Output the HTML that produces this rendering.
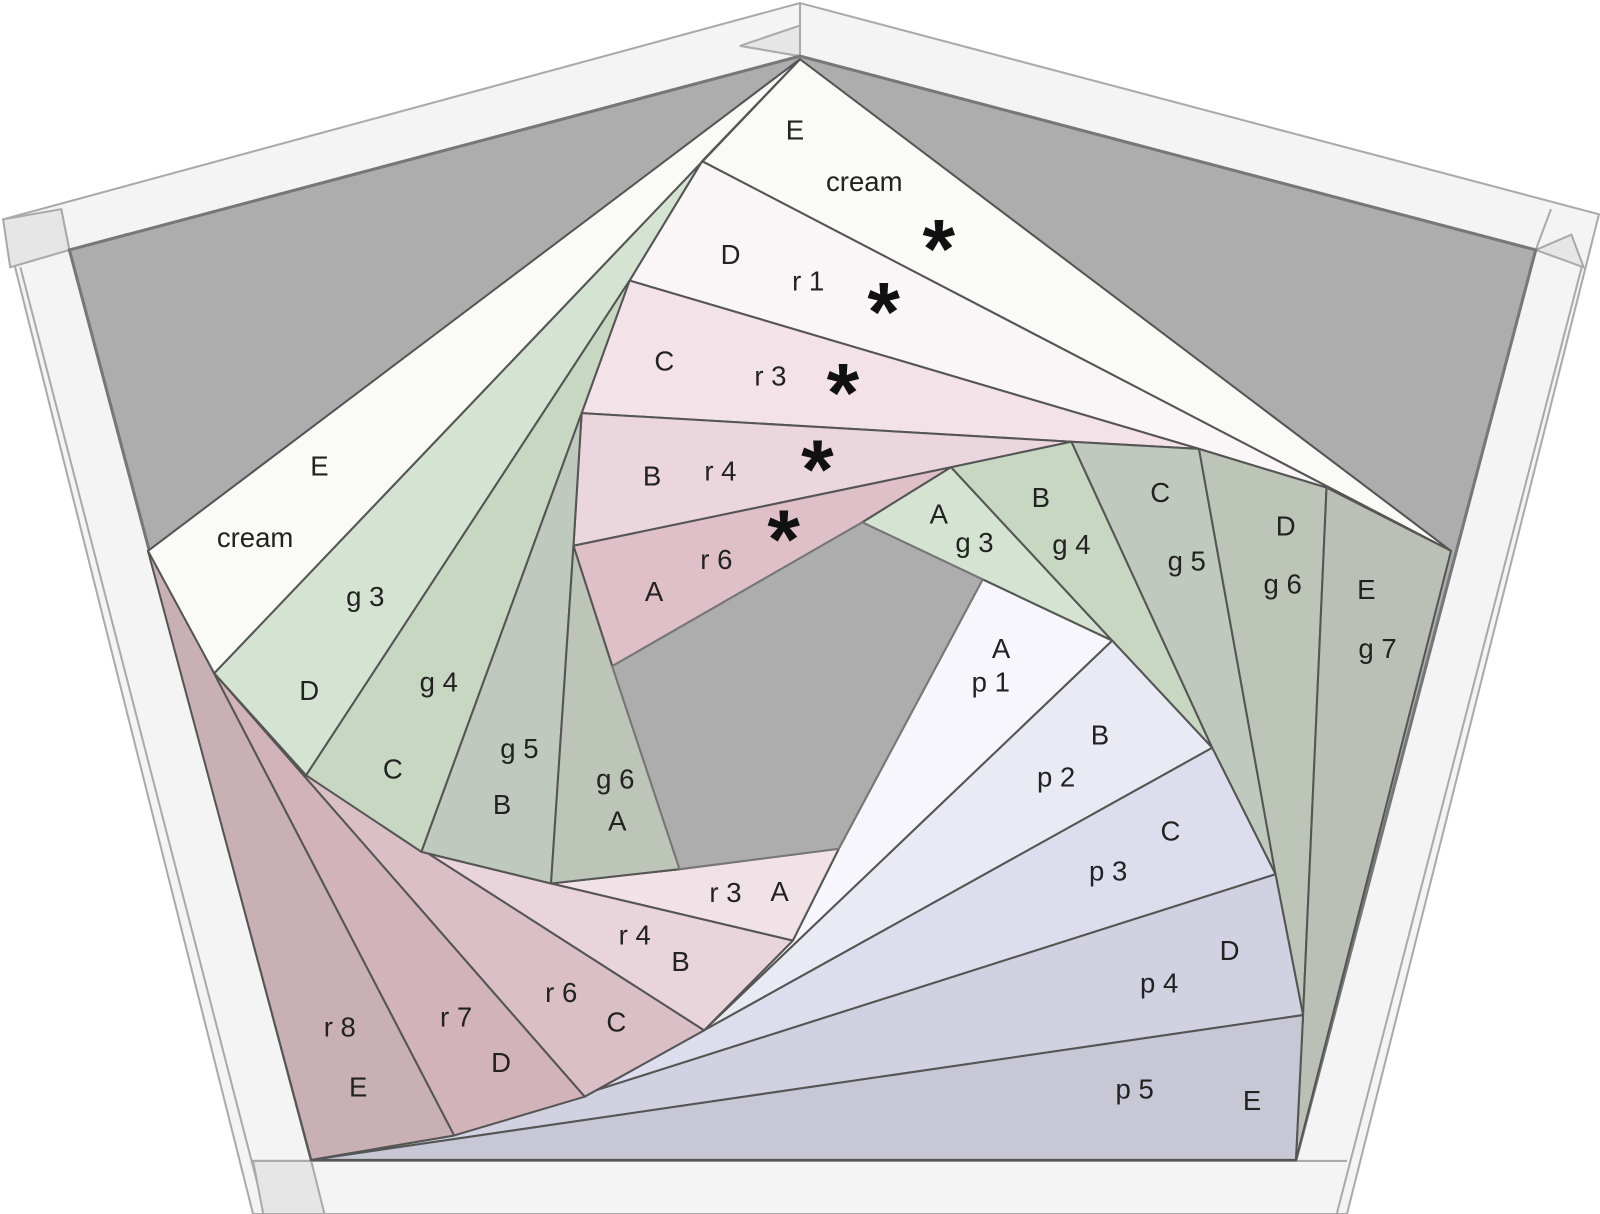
<!DOCTYPE html>
<html><head><style>
html,body{margin:0;padding:0;background:#fff;}
svg{display:block;}
text{font-family:"Liberation Sans",sans-serif;font-size:27px;fill:#222;text-anchor:middle;}
.ast{font-size:82px;font-weight:bold;fill:#111;}
</style></head><body>
<svg width="1600" height="1214" viewBox="0 0 1568 1190" preserveAspectRatio="none" xmlns="http://www.w3.org/2000/svg">
<g stroke="#aaa" stroke-width="2" fill="#f4f4f4">
<polygon points="784,3 1567,210 1320,1190 248,1190 3,215"/>
<polyline fill="none" points="20,262 260,1190"/>
<polyline fill="none" points="1550,262 1310,1190"/>
<polyline fill="none" points="248,1138 1320,1138"/>
<polyline fill="none" points="60,205 68,245"/>
<polyline fill="none" points="1520,205 1505,245"/>
<polyline fill="none" points="784,3 784,55"/>
<polygon points="725,45 784,55 784,25" fill="#e6e6e6"/>
<polygon points="1505,245 1552,262 1540,230" fill="#e6e6e6"/>
<polygon points="3,215 60,205 68,245 10,262" fill="#e6e6e6"/>
<polygon points="248,1138 305,1138 318,1190 258,1190" fill="#e6e6e6"/>
</g>
<polygon points="784,55 1505,245 1270,1137 305,1137 68,245" fill="#adadad" stroke="#777" stroke-width="3"/>
<g stroke="#555" stroke-width="2" stroke-linejoin="round">
<polygon fill="#fafaf6" points="784,58 1422,540 688,158"/>
<polygon fill="#faf5f7" points="688,158 1422,540 1300,478 1175,440 617,275"/>
<polygon fill="#f3e2e8" points="617,275 1175,440 1050,433 570,405"/>
<polygon fill="#ebd6de" points="570,405 1050,433 932,458 562,535"/>
<polygon fill="#dfc0c9" points="562,535 932,458 845,512 600,653"/>
<polygon fill="#d5e3d2" points="845,512 932,458 1090,628 963,568"/>
<polygon fill="#c8d7c2" points="932,458 1050,433 1188,733 1090,628"/>
<polygon fill="#c0c9bd" points="1050,433 1175,440 1250,857 1188,733"/>
<polygon fill="#bdc4b8" points="1175,440 1300,478 1277,995 1250,857"/>
<polygon fill="#bbc0b6" points="1300,478 1422,540 1270,1137 1277,995"/>
<polygon fill="#f6f6fc" points="963,568 1090,628 690,1010 777,922 822,832"/>
<polygon fill="#eaeaf5" points="1090,628 1188,733 573,1075 690,1010"/>
<polygon fill="#dedded" points="1188,733 1250,857 445,1113 573,1075"/>
<polygon fill="#d2d1e2" points="1250,857 1277,995 305,1137 445,1113"/>
<polygon fill="#c8c7d5" points="1277,995 1270,1137 305,1137"/>
<polygon fill="#f1e2e8" points="540,866 666,852 822,832 777,922"/>
<polygon fill="#e9d4dc" points="300,760 413,835 540,866 777,922 690,1010"/>
<polygon fill="#dbbfc7" points="210,660 300,760 690,1010 573,1075"/>
<polygon fill="#d2b3ba" points="150,545 210,660 573,1075 445,1113"/>
<polygon fill="#c9b0b5" points="145,540 150,545 445,1113 305,1137"/>
<polygon fill="#fafaf6" points="784,58 145,540 210,660"/>
<polygon fill="#d5e3d2" points="210,660 784,58 688,158 617,275 300,760"/>
<polygon fill="#c8d7c2" points="300,760 617,275 570,405 413,835"/>
<polygon fill="#c0c9bd" points="413,835 570,405 562,535 540,866"/>
<polygon fill="#bdc4b8" points="540,866 562,535 600,653 666,852"/>
<polygon fill="#adadad" stroke="#777" points="600,653 845,512 963,568 822,832 666,852"/>
</g>
<g>
<text x="779" y="137">E</text><text x="847" y="187">cream</text><text class="ast" x="920" y="272">*</text>
<text x="716" y="259">D</text><text x="792" y="285">r 1</text><text class="ast" x="866" y="334">*</text>
<text x="651" y="363">C</text><text x="755" y="378">r 3</text><text class="ast" x="826" y="413">*</text>
<text x="639" y="476">B</text><text x="706" y="471">r 4</text><text class="ast" x="801" y="488">*</text>
<text x="641" y="589">A</text><text x="702" y="558">r 6</text><text class="ast" x="768" y="557">*</text>
<text x="920" y="513">A</text><text x="955" y="541">g 3</text>
<text x="1020" y="497">B</text><text x="1050" y="543">g 4</text>
<text x="1137" y="492">C</text><text x="1163" y="559">g 5</text>
<text x="1260" y="525">D</text><text x="1257" y="582">g 6</text>
<text x="1339" y="587">E</text><text x="1350" y="645">g 7</text>
<text x="981" y="645">A</text><text x="971" y="678">p 1</text>
<text x="1078" y="730">B</text><text x="1035" y="771">p 2</text>
<text x="1147" y="824">C</text><text x="1086" y="863">p 3</text>
<text x="1205" y="941">D</text><text x="1136" y="973">p 4</text>
<text x="1112" y="1077">p 5</text><text x="1227" y="1088">E</text>
<text x="711" y="884">r 3</text><text x="764" y="883">A</text>
<text x="622" y="926">r 4</text><text x="667" y="952">B</text>
<text x="550" y="982">r 6</text><text x="604" y="1011">C</text>
<text x="447" y="1006">r 7</text><text x="491" y="1051">D</text>
<text x="333" y="1016">r 8</text><text x="351" y="1075">E</text>
<text x="313" y="466">E</text><text x="250" y="536">cream</text>
<text x="358" y="594">g 3</text><text x="303" y="686">D</text>
<text x="430" y="678">g 4</text><text x="385" y="763">C</text>
<text x="509" y="743">g 5</text><text x="492" y="798">B</text>
<text x="603" y="773">g 6</text><text x="605" y="814">A</text>
</g>
</svg>
</body></html>
